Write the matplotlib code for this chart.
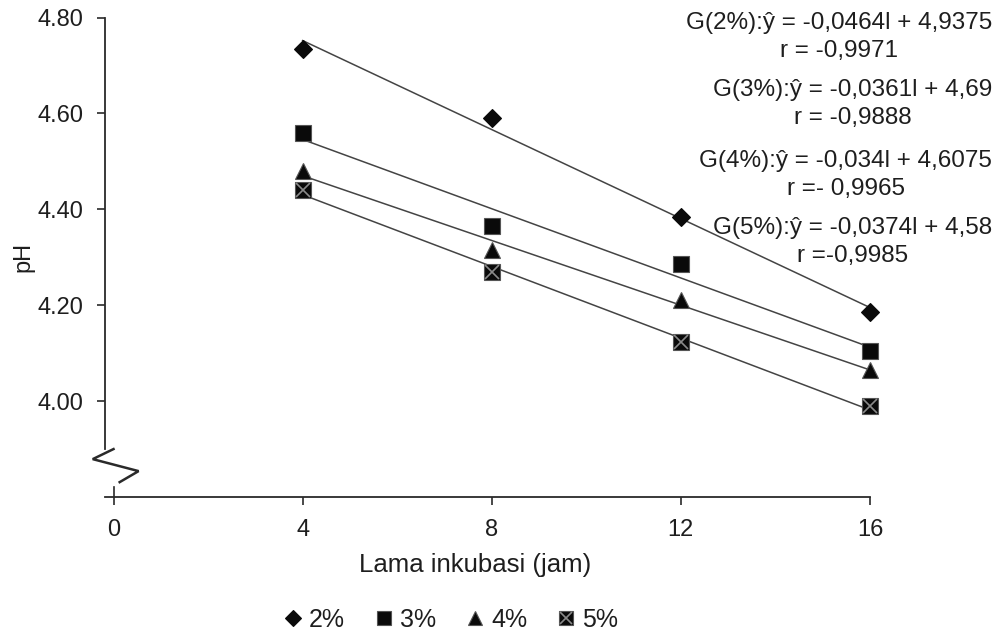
import numpy as np
import matplotlib
matplotlib.use("Agg")
from matplotlib import pyplot as plt
from matplotlib.legend_handler import HandlerTuple

plt.rcParams['font.family'] = ['Liberation Sans', 'DejaVu Sans']

# data
jam = [4, 8, 12, 16]
ph_2 = [4.735, 4.59, 4.384, 4.185]
ph_3 = [4.56, 4.365, 4.286, 4.105]
ph_4 = [4.48, 4.315, 4.21, 4.065]
ph_5 = [4.44, 4.27, 4.124, 3.99]
labels = ['2%', '3%', '4%', '5%']
persamaan = [
    "G(2%):ŷ = -0,0464l + 4,9375\nr = -0,9971",
    "G(3%):ŷ = -0,0361l + 4,69\nr = -0,9888",
    "G(4%):ŷ = -0,034l + 4,6075\nr =- 0,9965",
    "G(5%):ŷ = -0,0374l + 4,58\nr =-0,9985",
]
xticks = [0, 4, 8, 12, 16]
yticks = [4.00, 4.20, 4.40, 4.60, 4.80]

txt = '#1e1e1e'
fig = plt.figure(figsize=(10.02, 6.32), dpi=100)
ax = fig.add_axes([0.1048, 0.2136, 0.787, 0.7587])
ax.set_xlim(-0.18, 16.5)
ax.set_ylim(3.80, 4.80)

x = np.array(jam)
handles = []
for ys, m, ms in [(ph_2, 'D', 9.5), (ph_3, 's', 12), (ph_4, '^', 12), (ph_5, 's', 12)]:
    k, b = np.polyfit(x, ys, 1)
    ax.plot(x, k * x + b, color='#444444', lw=1.1, zorder=2)
    h, = ax.plot(x, ys, linestyle='none', marker=m, ms=ms, color='#0a0a0a',
                 mec='#555555' if m != 'D' else '#0a0a0a', mew=0.8, zorder=3, clip_on=False)
    handles.append(h)
# cross inside the 5% squares
hx, = ax.plot(x, ph_5, linestyle='none', marker='x', ms=10, color='#8a8a8a', mew=1.2, zorder=4)
handles[3] = (handles[3], hx)

# axes styling
for s in ['top', 'right']:
    ax.spines[s].set_visible(False)
ax.spines['left'].set_bounds(3.90, 4.80)
ax.spines['bottom'].set_bounds(-0.18, 16)
for s in ['left', 'bottom']:
    ax.spines[s].set_color('#2a2a2a')
    ax.spines[s].set_linewidth(1.3)

ax.set_xticks(xticks)
ax.set_xticklabels([str(v) for v in xticks])
ax.set_yticks(yticks)
ax.set_yticklabels([f"{v:.2f}" for v in yticks])
ax.tick_params(axis='x', direction='out', length=6, width=1.2, pad=10, labelsize=17,
               colors='#2a2a2a', labelcolor=txt)
ax.tick_params(axis='y', direction='out', length=5.5, width=1.2, pad=10, labelsize=17,
               colors='#2a2a2a', labelcolor=txt)

# axis break zigzag and crossing tick at origin
ax.plot([0, -0.44, 0.53, 0.13], [3.90, 3.879, 3.854, 3.831], color='#2a2a2a', lw=1.8,
        clip_on=False, solid_joinstyle='miter')
ax.plot([0, 0], [3.80, 3.821], color='#2a2a2a', lw=1.2, clip_on=False)

fig.text(23 / 1002, 1 - 257 / 632, 'pH', rotation=90, ha='center', va='center',
         fontsize=17, color=txt)
fig.text(475 / 1002, 1 - 565 / 632, 'Lama inkubasi (jam)', ha='center', va='center',
         fontsize=18.5, color=txt)

# equations
ys_txt = [37, 104, 175, 242]
for t, yy in zip(persamaan, ys_txt):
    fig.text(992 / 1002, 1 - yy / 632, t, ha='right', va='center', multialignment='center',
             fontsize=17.5, color=txt, linespacing=1.3)

leg = fig.legend(handles, labels, loc='center', bbox_to_anchor=(452 / 1002, 1 - 620 / 632),
                 ncol=4, frameon=False, fontsize=18, markerscale=0.85, handlelength=0.6,
                 handletextpad=0.35, columnspacing=1.25,
                 handler_map={tuple: HandlerTuple(ndivide=1, pad=0)})
for t in leg.get_texts():
    t.set_color(txt)

fig.savefig('out.png', dpi=100)
